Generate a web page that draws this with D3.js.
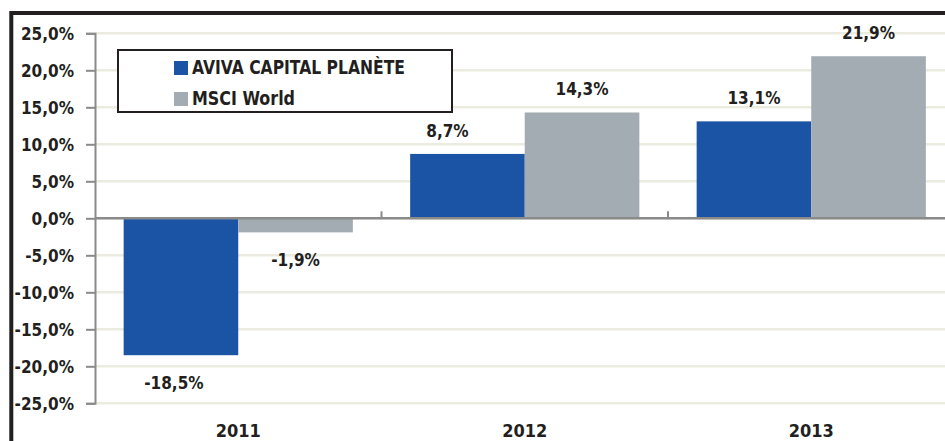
<!DOCTYPE html>
<html>
<head>
<meta charset="utf-8">
<script src="https://cdn.jsdelivr.net/npm/d3@7"></script>
<style>
  body { margin: 0; background: #fff; }
  text { font-family: "DejaVu Sans Condensed", "DejaVu Sans", sans-serif; font-stretch: condensed; font-weight: bold; fill: #231f20; }
</style>
</head>
<body>
<div id="chart"></div>
<script>
// Data
var years = ["2011", "2012", "2013"];
var seriesNames = ["AVIVA CAPITAL PLANÈTE", "MSCI World"];
var aviva = [-18.5, 8.7, 13.1];
var msci = [-1.9, 14.3, 21.9];
var yTicks = [25, 20, 15, 10, 5, 0, -5, -10, -15, -20, -25];

var w = 945, h = 441;
var colors = ["#1b54a4", "#a3acb2"];

var svg = d3.select("#chart")
  .append("svg")
    .attr("width", w)
    .attr("height", h);

// Scales: the plot area runs past the right edge of the picture
var xScale = d3.scaleBand().domain(years).range([95, 954.5]).padding(0);
var bw = xScale.bandwidth();
var xSub = d3.scaleBand().domain(seriesNames).range([0.1 * bw, 0.9 * bw]).padding(0);
var yScale = d3.scaleLinear().domain([-25, 25]).range([403.3, 33.3]);

var fmt = function(v) { return d3.format(".1f")(v).replace(".", ",").replace("−", "-") + "%"; };

// Outer frame (only top and left edges visible)
svg.append("rect")
  .attr("x", 11.3).attr("y", 13)
  .attr("width", w + 20).attr("height", h + 20)
  .attr("fill", "none")
  .attr("stroke", "#231f20")
  .attr("stroke-width", 4);

// Gridlines
svg.append("g")
  .selectAll("line")
  .data(yTicks)
  .enter().append("line")
  .attr("x1", 95).attr("x2", w)
  .attr("y1", function(d) { return yScale(d); })
  .attr("y2", function(d) { return yScale(d); })
  .attr("stroke", "#ecebe0")
  .attr("stroke-width", 2.5);

// Y axis
var yAxis = d3.axisLeft(yScale).tickValues(yTicks).tickSize(9).tickPadding(12)
  .tickFormat(function(d) { return d3.format(".1f")(d).replace(".", ",").replace("−", "-") + "%"; });
var gy = svg.append("g").attr("transform", "translate(95,0)").call(yAxis);
gy.select(".domain").attr("stroke", "#8a8a8a").attr("stroke-width", 2);
gy.selectAll(".tick line").attr("stroke", "#8a8a8a").attr("stroke-width", 2);
gy.selectAll(".tick text").attr("font-size", 17).attr("fill", "#231f20").attr("dy", "0.36em");

// Bars
var rows = years.map(function(y, i) { return { year: y, values: [aviva[i], msci[i]] }; });
var groups = svg.append("g")
  .selectAll("g")
  .data(rows)
  .enter().append("g")
  .attr("transform", function(d) { return "translate(" + xScale(d.year) + ",0)"; });

groups.selectAll("rect")
  .data(function(d) { return d.values.map(function(v, k) { return { key: seriesNames[k], k: k, value: v }; }); })
  .enter().append("rect")
  .attr("x", function(d) { return xSub(d.key); })
  .attr("y", function(d) { return yScale(Math.max(0, d.value)); })
  .attr("width", xSub.bandwidth())
  .attr("height", function(d) { return Math.abs(yScale(d.value) - yScale(0)); })
  .attr("fill", function(d) { return colors[d.k]; });

// Value labels (the 2011 and 2012 Aviva labels sit a bit left of their bar in the original)
var nudge = { "2011-0": -7, "2012-0": -20 };
groups.selectAll("text.val")
  .data(function(d) { return d.values.map(function(v, k) { return { year: d.year, key: seriesNames[k], k: k, value: v }; }); })
  .enter().append("text")
  .attr("class", "val")
  .attr("x", function(d) { return xSub(d.key) + xSub.bandwidth() / 2 + (nudge[d.year + "-" + d.k] || 0); })
  .attr("y", function(d) { return d.value >= 0 ? yScale(d.value) - 17 : yScale(d.value) + 34; })
  .attr("text-anchor", "middle")
  .attr("font-size", 17)
  .text(function(d) { return fmt(d.value); });

// X axis on the zero line, ticks pointing up between categories
var xAxisLine = svg.append("g");
xAxisLine.append("line")
  .attr("x1", 95).attr("x2", w)
  .attr("y1", yScale(0)).attr("y2", yScale(0))
  .attr("stroke", "#8a8a8a")
  .attr("stroke-width", 2.5);
xAxisLine.selectAll("line.tk")
  .data(years.slice(1))
  .enter().append("line")
  .attr("class", "tk")
  .attr("x1", function(d) { return xScale(d); })
  .attr("x2", function(d) { return xScale(d); })
  .attr("y1", yScale(0)).attr("y2", yScale(0) - 7)
  .attr("stroke", "#8a8a8a")
  .attr("stroke-width", 2);

// Year labels at the bottom
svg.append("g")
  .selectAll("text")
  .data(years)
  .enter().append("text")
  .attr("x", function(d) { return xScale(d) + bw / 2; })
  .attr("y", 437)
  .attr("text-anchor", "middle")
  .attr("font-size", 18)
  .text(function(d) { return d; });

// Legend
var legend = svg.append("g");
legend.append("rect")
  .attr("x", 118).attr("y", 50)
  .attr("width", 334).attr("height", 62)
  .attr("fill", "#fff")
  .attr("stroke", "#231f20")
  .attr("stroke-width", 2);
var legendTextLen = [213, 103];
seriesNames.forEach(function(name, i) {
  legend.append("rect")
    .attr("x", 174).attr("y", 61 + i * 31)
    .attr("width", 14).attr("height", 14)
    .attr("fill", colors[i]);
  legend.append("text")
    .attr("x", 192).attr("y", 74 + i * 31)
    .attr("font-size", 20)
    .attr("textLength", legendTextLen[i])
    .attr("lengthAdjust", "spacingAndGlyphs")
    .text(name);
});
</script>
</body>
</html>
